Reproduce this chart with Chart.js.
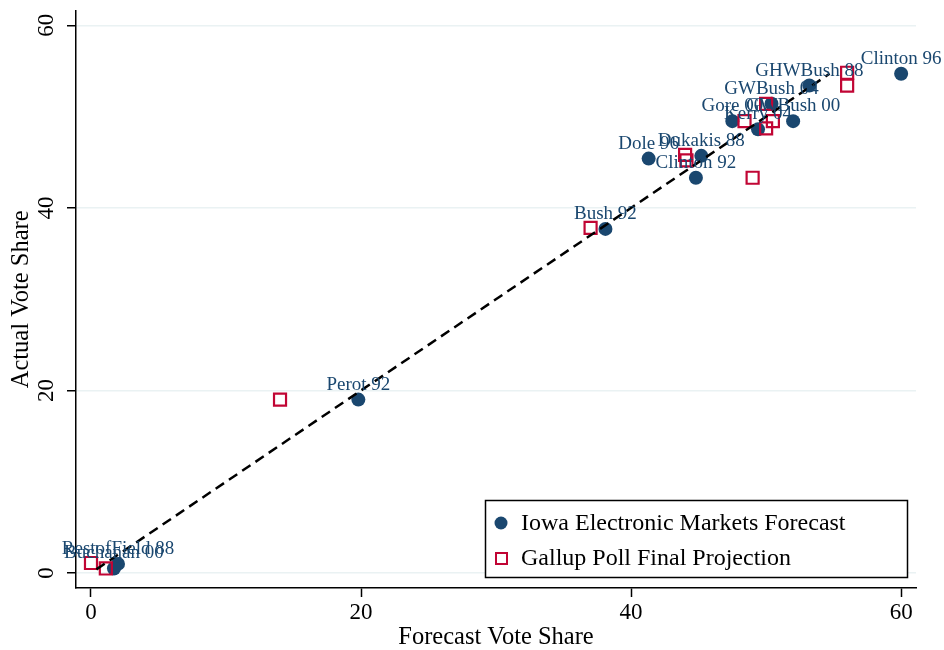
<!DOCTYPE html>
<html>
<head>
<meta charset="utf-8">
<script src="https://cdn.jsdelivr.net/npm/chart.js@4"></script>
<style>
  html, body { margin: 0; padding: 0; background: #fff; }
  #wrap { width: 944px; height: 650px; }
</style>
</head>
<body>
<div id="wrap"><canvas id="chart" width="944" height="650"></canvas></div>
<script>
// election labels (IEM points carry the labels)
const electionLabels = ['Clinton 96', 'GHWBush 88', 'GWBush 04', 'Gore 00', 'GWBush 00', 'Kerry 04',
  'Dukakis 88', 'Dole 96', 'Clinton 92', 'Bush 92', 'Perot 92', 'RestofField 88', 'Buchanan 00'];

// Iowa Electronic Markets forecast vs actual
const iemForecast = [60.0, 53.2, 50.4, 47.5, 52.0, 49.4, 45.2, 41.3, 44.8, 38.1, 19.8, 2.0, 1.7];
const iemActual   = [54.7, 53.4, 51.4, 49.5, 49.5, 48.6, 45.7, 45.4, 43.3, 37.7, 19.0, 1.0, 0.5];

// Gallup final projection vs actual
const gallupForecast = [56.0, 56.0, 50.0, 48.4, 50.5, 50.0, 44.0, 44.1, 49.0, 37.0, 14.0, 0.0, 1.1];
const gallupActual   = [54.8, 53.4, 51.4, 49.5, 49.5, 48.7, 45.8, 45.2, 43.3, 37.8, 19.0, 1.1, 0.5];

// 45 degree reference line ends
const lineX = [0.4, 54.7];
const lineY = [0.4, 54.7];

const xTicks = [0, 20, 40, 60];
const yTicks = [0, 20, 40, 60];

const seriesNames = ['Iowa Electronic Markets Forecast', 'Gallup Poll Final Projection'];

const BLUE = '#1a476f';
const RED = '#c10534';
const SERIF = '"Liberation Serif", "DejaVu Serif", serif';

const toPoints = (xs, ys) => xs.map((x, i) => ({ x: x, y: ys[i] }));

// labels, rotated y ticks, titles and legend box
const extrasPlugin = {
  id: 'extras',
  afterDatasetsDraw(chart) {
    const c = chart.ctx;
    const meta = chart.getDatasetMeta(0);
    c.save();
    c.fillStyle = BLUE;
    c.font = '19px ' + SERIF;
    c.textAlign = 'center';
    c.textBaseline = 'alphabetic';
    meta.data.forEach((pt, i) => {
      c.fillText(electionLabels[i], pt.x, pt.y - 10);
    });
    c.restore();
  },
  afterDraw(chart) {
    const c = chart.ctx;
    const ys = chart.scales.y;
    const area = chart.chartArea;
    c.save();
    c.fillStyle = '#000';
    // y tick labels, vertical
    c.font = '23px ' + SERIF;
    c.textAlign = 'center';
    c.textBaseline = 'middle';
    yTicks.forEach(v => {
      c.save();
      c.translate(47, ys.getPixelForValue(v));
      c.rotate(-Math.PI / 2);
      c.fillText(String(v), 0, 0);
      c.restore();
    });
    // axis titles
    c.font = '24.5px ' + SERIF;
    c.fillText('Forecast Vote Share', (area.left + area.right) / 2, 638);
    c.save();
    c.translate(22, (area.top + area.bottom) / 2);
    c.rotate(-Math.PI / 2);
    c.fillText('Actual Vote Share', 0, 0);
    c.restore();

    // legend
    c.fillStyle = '#fff';
    c.fillRect(485, 500, 423, 78);
    c.strokeStyle = '#000';
    c.lineWidth = 1.5;
    c.strokeRect(485.5, 500.5, 422, 77);
    c.fillStyle = BLUE;
    c.beginPath();
    c.arc(501, 523, 6.5, 0, Math.PI * 2);
    c.fill();
    c.strokeStyle = RED;
    c.lineWidth = 2;
    c.strokeRect(496, 553, 11, 11);
    c.fillStyle = '#000';
    c.font = '24px ' + SERIF;
    c.textAlign = 'left';
    c.fillText(seriesNames[0], 521, 524);
    c.fillText(seriesNames[1], 521, 559);
    c.restore();
  }
};

const ctx = document.getElementById('chart').getContext('2d');

const chart = new Chart(ctx, {
  type: 'scatter',
  data: {
    datasets: [
      {
        label: seriesNames[0],
        data: toPoints(iemForecast, iemActual),
        pointStyle: 'circle',
        pointRadius: 7,
        pointHoverRadius: 7,
        backgroundColor: BLUE,
        borderWidth: 0,
        order: 2
      },
      {
        label: seriesNames[1],
        data: toPoints(gallupForecast, gallupActual),
        pointStyle: 'rect',
        pointRadius: 8.5,
        pointHoverRadius: 8.5,
        backgroundColor: 'rgba(0,0,0,0)',
        borderColor: RED,
        borderWidth: 2.2,
        order: 1
      },
      {
        type: 'line',
        label: 'fit',
        data: toPoints(lineX, lineY),
        borderColor: '#000',
        borderWidth: 2.5,
        borderDash: [10, 6],
        pointRadius: 0,
        fill: false,
        order: 0
      }
    ]
  },
  options: {
    responsive: false,
    animation: false,
    layout: { padding: { left: 0, top: 9, right: 28, bottom: 0 } },
    plugins: {
      legend: { display: false },
      tooltip: { enabled: false }
    },
    scales: {
      x: {
        type: 'linear',
        min: -1.11,
        max: 61.1,
        afterBuildTicks: s => { s.ticks = xTicks.map(v => ({ value: v })); },
        afterFit: s => { s.height = 62; },
        grid: { drawOnChartArea: false, tickLength: 9, tickColor: '#000', tickWidth: 1.5 },
        border: { display: true, color: '#000', width: 1.5 },
        ticks: {
          color: '#000',
          font: { family: SERIF, size: 23 },
          padding: 2,
          maxRotation: 0
        }
      },
      y: {
        type: 'linear',
        min: -1.64,
        max: 61.6,
        afterBuildTicks: s => { s.ticks = yTicks.map(v => ({ value: v })); },
        afterFit: s => { s.width = 76; },
        grid: { color: '#eaf2f3', lineWidth: 1.5, tickLength: 9, tickColor: '#000', tickWidth: 1.5 },
        border: { display: true, color: '#000', width: 1.5 },
        ticks: { display: false }
      }
    }
  },
  plugins: [extrasPlugin]
});
</script>
</body>
</html>
